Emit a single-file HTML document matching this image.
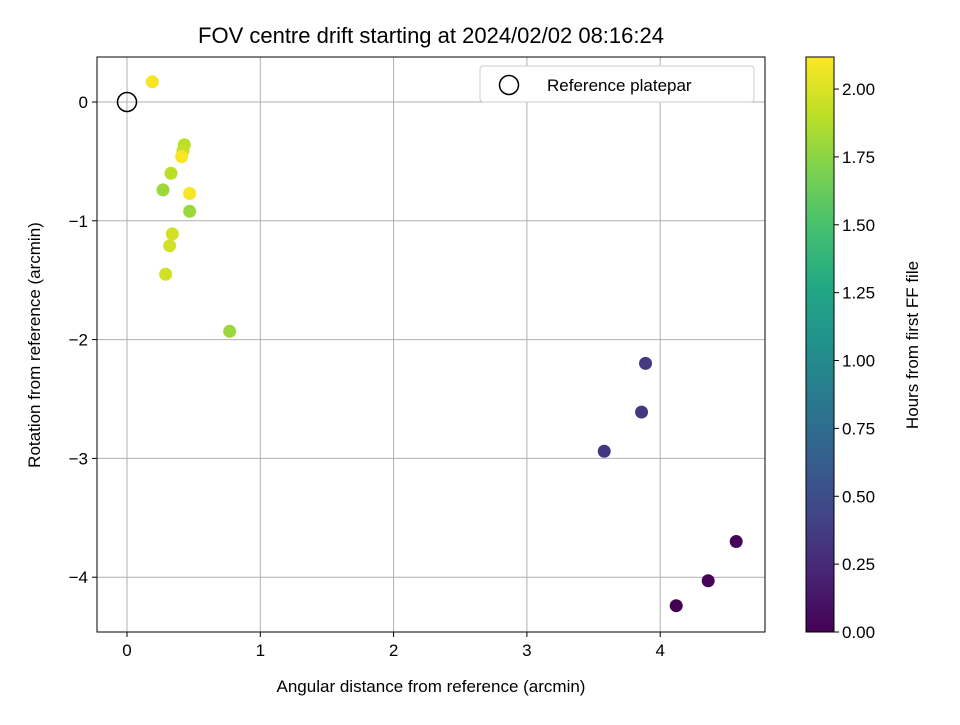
<!DOCTYPE html>
<html><head><meta charset="utf-8"><style>
body{margin:0;background:#fff;font-family:"Liberation Sans",sans-serif}
svg text{font-family:"Liberation Sans",sans-serif;fill:#000}
</style></head><body>
<svg id="chart" width="960" height="720" xmlns="http://www.w3.org/2000/svg">
<defs><linearGradient id="vir" x1="0" y1="1" x2="0" y2="0">
<stop offset="0" stop-color="#440154"/><stop offset="0.1" stop-color="#482475"/><stop offset="0.2" stop-color="#414487"/><stop offset="0.3" stop-color="#355f8d"/><stop offset="0.4" stop-color="#2a788e"/><stop offset="0.5" stop-color="#21918c"/><stop offset="0.6" stop-color="#22a884"/><stop offset="0.7" stop-color="#44bf70"/><stop offset="0.8" stop-color="#7ad151"/><stop offset="0.9" stop-color="#bddf26"/><stop offset="1" stop-color="#fde725"/>
</linearGradient></defs>
<g id="grid"></g>
<g id="pts"></g>
<rect x="97" y="57" width="668" height="575" fill="none" stroke="#000"/>
<g id="ticks"></g>
<text x="431" y="43" font-size="22" text-anchor="middle">FOV centre drift starting at 2024/02/02 08:16:24</text>
<text x="431" y="692" font-size="17" text-anchor="middle">Angular distance from reference (arcmin)</text>
<text transform="translate(40,345) rotate(-90)" font-size="17" text-anchor="middle">Rotation from reference (arcmin)</text>
<g>
<rect x="480" y="66" width="274" height="36" rx="3" fill="#fff" stroke="#ccc"/>
<circle cx="509" cy="85" r="9.5" fill="none" stroke="#000" stroke-width="1.5"/>
<text x="547" y="91" font-size="17">Reference platepar</text>
</g>
<rect x="806" y="57" width="28" height="575" fill="url(#vir)" stroke="#000"/>
<g id="cbticks"></g>
<text transform="translate(918,345) rotate(-90)" font-size="17" text-anchor="middle">Hours from first FF file</text>
</svg>
<script>
const xs=[4.12,4.36,4.57,3.58,3.86,3.89,0.19,0.43,0.42,0.41,0.33,0.27,0.47,0.47,0.34,0.32,0.29,0.77];
const ys=[-4.24,-4.03,-3.70,-2.94,-2.61,-2.20,0.17,-0.36,-0.41,-0.46,-0.60,-0.74,-0.77,-0.92,-1.11,-1.21,-1.45,-1.93];
const hrs=[0.0,0.03,0.02,0.33,0.35,0.36,2.1,1.9,1.92,2.1,1.9,1.8,2.1,1.8,1.97,1.97,1.97,1.8];
const xTicks=[0,1,2,3,4];
const yTicks=[0,-1,-2,-3,-4];
const cTicks=[0,0.25,0.5,0.75,1.0,1.25,1.5,1.75,2.0];
const cMax=2.118;
const X=v=>127+v*133.3, Y=v=>102-v*118.8, C=v=>632-v/cMax*575;
const vir=["#440154","#482475","#414487","#355f8d","#2a788e","#21918c","#22a884","#44bf70","#7ad151","#bddf26","#fde725"];
function hex(h){return[1,3,5].map(i=>parseInt(h.substr(i,2),16));}
function color(v){let t=Math.max(0,Math.min(1,v/cMax))*10,i=Math.min(9,Math.floor(t)),f=t-i,a=hex(vir[i]),b=hex(vir[i+1]);return"rgb("+a.map((c,k)=>Math.round(c+(b[k]-c)*f)).join(",")+")";}
const NS="http://www.w3.org/2000/svg";
function mk(p,tag,at){const e=document.createElementNS(NS,tag);for(const k in at)e.setAttribute(k,at[k]);p.appendChild(e);return e;}
const g=document.getElementById('grid'),tk=document.getElementById('ticks'),pts=document.getElementById('pts'),cb=document.getElementById('cbticks');
xTicks.forEach(v=>{const x=X(v);
const l=mk(g,'line',{x1:x,x2:x,y1:57,y2:632,stroke:'#b0b0b0','stroke-width':1});


mk(tk,'line',{x1:x,x2:x,y1:632,y2:637,stroke:'#000'});
const t=mk(tk,'text',{x:x,y:656,'font-size':17,'text-anchor':'middle'});t.textContent=v;

});
yTicks.forEach(v=>{const y=Y(v);
const l=mk(g,'line',{x1:97,x2:765,y1:y,y2:y,stroke:'#b0b0b0','stroke-width':1});


mk(tk,'line',{x1:92,x2:97,y1:y,y2:y,stroke:'#000'});
const t=mk(tk,'text',{x:88,y:y+6,'font-size':17,'text-anchor':'end'});t.textContent=v<0?'\u2212'+(-v):v;

});
const ref=mk(pts,'circle',{cx:X(0),cy:Y(0),r:9.5,fill:'none',stroke:'#000','stroke-width':1.5});


xs.forEach((v,i)=>{const c=mk(pts,'circle',{cx:X(v),cy:Y(ys[i]),r:6.5,fill:color(hrs[i])});

});
cTicks.forEach(v=>{const y=C(v);
mk(cb,'line',{x1:834,x2:839,y1:y,y2:y,stroke:'#000'});
const t=mk(cb,'text',{x:842,y:y+6,'font-size':17});t.textContent=v.toFixed(2);

});
</script>
</body></html>
